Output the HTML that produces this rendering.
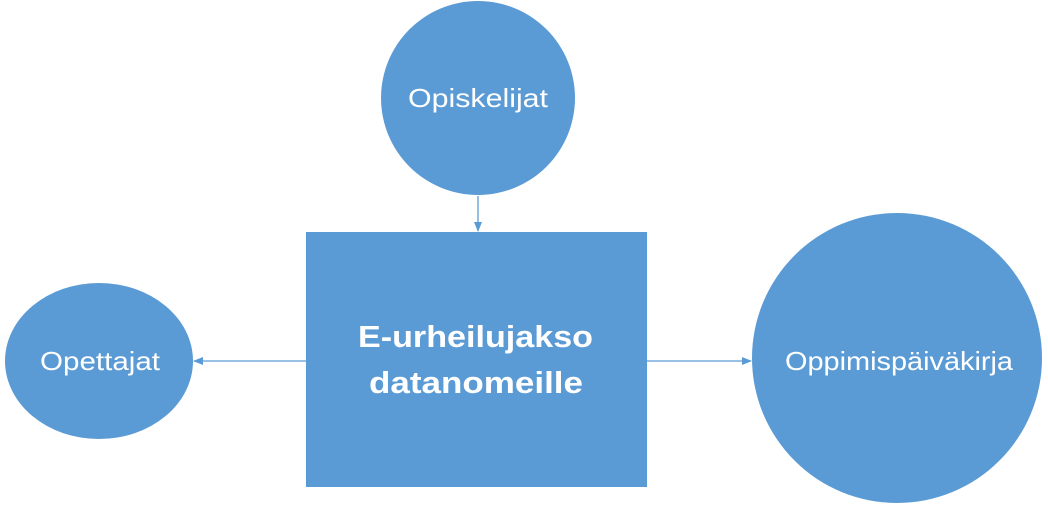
<!DOCTYPE html>
<html><head><style>body{margin:0;background:#fff}</style></head><body>
<svg width="1048" height="509" xmlns="http://www.w3.org/2000/svg" font-family="Liberation Sans, sans-serif">
<defs><marker id="a" markerWidth="10" markerHeight="8" refX="9" refY="4" orient="auto" markerUnits="userSpaceOnUse"><path d="M0,0 L10,4 L0,8 z" fill="#5B9BD5"/></marker></defs>
<circle cx="478" cy="98" r="97" fill="#5B9BD5"/>
<rect x="306" y="232" width="341" height="255" fill="#5B9BD5"/>
<ellipse cx="99" cy="361" rx="94" ry="78" fill="#5B9BD5"/>
<circle cx="897" cy="358" r="145" fill="#5B9BD5"/>
<line x1="478" y1="196" x2="478" y2="231" stroke="#5B9BD5" stroke-width="1.3" marker-end="url(#a)"/>
<line x1="306" y1="361" x2="194" y2="361" stroke="#5B9BD5" stroke-width="1.3" marker-end="url(#a)"/>
<line x1="647" y1="361" x2="751" y2="361" stroke="#5B9BD5" stroke-width="1.3" marker-end="url(#a)"/>
<g fill="#fff" font-size="26">
<text x="408" y="107" textLength="140" lengthAdjust="spacingAndGlyphs">Opiskelijat</text>
<text x="40" y="370" textLength="120" lengthAdjust="spacingAndGlyphs">Opettajat</text>
<text x="785" y="370" textLength="228" lengthAdjust="spacingAndGlyphs">Oppimispäiväkirja</text>
<text x="358" y="347" font-size="31" font-weight="bold" textLength="235" lengthAdjust="spacingAndGlyphs">E-urheilujakso</text>
<text x="369" y="393" font-size="31" font-weight="bold" textLength="214" lengthAdjust="spacingAndGlyphs">datanomeille</text>
</g>
</svg>
</body></html>
